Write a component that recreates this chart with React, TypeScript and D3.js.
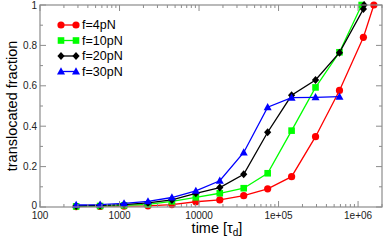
import React from 'react';
import * as d3 from 'd3';

// doubling time grid (in tau_d)
const times = [285, 570, 1140, 2280, 4560, 9120, 18240, 36480, 72960, 145920, 291840, 583680, 1167360];

const red4 = [0.002, 0.003, 0.004, 0.006, 0.012, 0.026, 0.035, 0.056, 0.09, 0.15, 0.348, 0.577, 0.84, 1.0];
const redTimes = [...times, 1580000];
const green10 = [0.003, 0.005, 0.008, 0.013, 0.028, 0.048, 0.068, 0.093, 0.167, 0.378, 0.592, 0.766, 1.0];
const greenTimes = [...times.slice(0, 12), 1110000];
const black20 = [0.005, 0.008, 0.012, 0.02, 0.035, 0.068, 0.096, 0.162, 0.37, 0.553, 0.629, 0.764, 0.98, 1.0];
const blackTimes = [...times, 1190000];
const blue30 = [0.01, 0.012, 0.018, 0.028, 0.047, 0.08, 0.13, 0.27, 0.494, 0.541, 0.543, 0.546];
const blueTimes = times.slice(0, 12);

const legendLabels = ['f=4pN', 'f=10pN', 'f=20pN', 'f=30pN'];
const xTickLabels = ['100', '1000', '10000', '1e+05', '1e+06'];
const yTickLabels = ['0', '0.2', '0.4', '0.6', '0.8', '1'];

const series = [
  { name: legendLabels[0], color: '#ff0000', shape: 'circle', xs: redTimes, ys: red4 },
  { name: legendLabels[1], color: '#00ff00', shape: 'square', xs: greenTimes, ys: green10 },
  { name: legendLabels[2], color: '#000000', shape: 'diamond', xs: blackTimes, ys: black20 },
  { name: legendLabels[3], color: '#0000ff', shape: 'triangle', xs: blueTimes, ys: blue30 },
];

const left = 40, right = 382, top = 5, bottom = 207;
const axisColor = '#8c8c8c';
const font = '"Liberation Sans", Arial, Helvetica, sans-serif';

function Marker({ shape, x, y, color }: { shape: string; x: number; y: number; color: string }) {
  if (shape === 'circle') return <circle cx={x} cy={y} r={3.6} fill={color} />;
  if (shape === 'square') return <rect x={x - 3.3} y={y - 3.3} width={6.6} height={6.6} fill={color} />;
  if (shape === 'diamond') {
    const p = d3.path();
    p.moveTo(x, y - 4); p.lineTo(x + 3.6, y); p.lineTo(x, y + 4); p.lineTo(x - 3.6, y); p.closePath();
    return <path d={p.toString()} fill={color} />;
  }
  const p = d3.path();
  p.moveTo(x, y - 4.2); p.lineTo(x + 4, y + 3); p.lineTo(x - 4, y + 3); p.closePath();
  return <path d={p.toString()} fill={color} />;
}

export default function App() {
  const x = d3.scaleLog().domain([100, 2e6]).range([left, right]);
  const y = d3.scaleLinear().domain([0, 1]).range([bottom, top]);

  const line = d3.line<[number, number]>().x(d => x(d[0])).y(d => y(d[1]));

  const majorX = [100, 1000, 10000, 1e5, 1e6];
  const minorX: number[] = [];
  for (const m of majorX) {
    for (let k = 2; k <= 9; k++) if (m * k <= 2e6) minorX.push(m * k);
  }
  const majorY = d3.range(0, 1.01, 0.2);
  const minorY = d3.range(0.1, 1, 0.2);

  return (
    <svg width={388} height={240} style={{ position: 'absolute', left: 0, top: 0, fontFamily: font }}>
      <rect width={388} height={240} fill="#fff" />
      {series.map(s => (
        <g key={s.name}>
          <path d={line(s.xs.map((t, i) => [t, s.ys[i]] as [number, number])) || ''} fill="none" stroke={s.color} strokeWidth={1.3} />
          {s.xs.map((t, i) => <Marker key={i} shape={s.shape} x={x(t)} y={y(s.ys[i])} color={s.color} />)}
        </g>
      ))}
      <rect x={left} y={top} width={right - left} height={bottom - top} fill="none" stroke={axisColor} strokeWidth={1.2} />
      {majorX.map(v => (
        <g key={'mx' + v}>
          <line x1={x(v)} x2={x(v)} y1={bottom} y2={bottom - 6} stroke={axisColor} />
          <line x1={x(v)} x2={x(v)} y1={top} y2={top + 6} stroke={axisColor} />
        </g>
      ))}
      {minorX.map(v => (
        <g key={'nx' + v}>
          <line x1={x(v)} x2={x(v)} y1={bottom} y2={bottom - 3} stroke={axisColor} />
          <line x1={x(v)} x2={x(v)} y1={top} y2={top + 3} stroke={axisColor} />
        </g>
      ))}
      {majorY.map(v => (
        <g key={'my' + v}>
          <line x1={left} x2={left + 6} y1={y(v)} y2={y(v)} stroke={axisColor} />
          <line x1={right} x2={right - 6} y1={y(v)} y2={y(v)} stroke={axisColor} />
        </g>
      ))}
      {minorY.map(v => (
        <g key={'ny' + v}>
          <line x1={left} x2={left + 3} y1={y(v)} y2={y(v)} stroke={axisColor} />
          <line x1={right} x2={right - 3} y1={y(v)} y2={y(v)} stroke={axisColor} />
        </g>
      ))}
      {majorX.map((v, i) => (
        <text key={'lx' + v} x={x(v)} y={bottom + 11.5} textAnchor="middle" fontSize={10} fill="#222">{xTickLabels[i]}</text>
      ))}
      {majorY.map((v, i) => (
        <text key={'ly' + i} x={left - 3} y={y(v) + (i === 0 ? 1.5 : 3.5)} textAnchor="end" fontSize={10} fill="#222">{yTickLabels[i]}</text>
      ))}
      <text x={(left + right) / 2 + 6} y={233} textAnchor="middle" fontSize={14.5} fill="#000">
        time [τ<tspan dy={3} fontSize={10}>d</tspan><tspan dy={-3}>]</tspan>
      </text>
      <text transform={`translate(17,${(top + bottom) / 2}) rotate(-90)`} textAnchor="middle" fontSize={14.5} fill="#000">translocated fraction</text>
      {series.map((s, i) => {
        const ly = 25 + i * 15.5;
        return (
          <g key={'lg' + s.name}>
            <line x1={61} x2={76} y1={ly} y2={ly} stroke={s.color} strokeWidth={1.3} />
            <Marker shape={s.shape} x={61} y={ly} color={s.color} />
            <Marker shape={s.shape} x={76} y={ly} color={s.color} />
            <text x={82} y={ly + 4.3} fontSize={12.5} fill="#000">{s.name}</text>
          </g>
        );
      })}
    </svg>
  );
}
